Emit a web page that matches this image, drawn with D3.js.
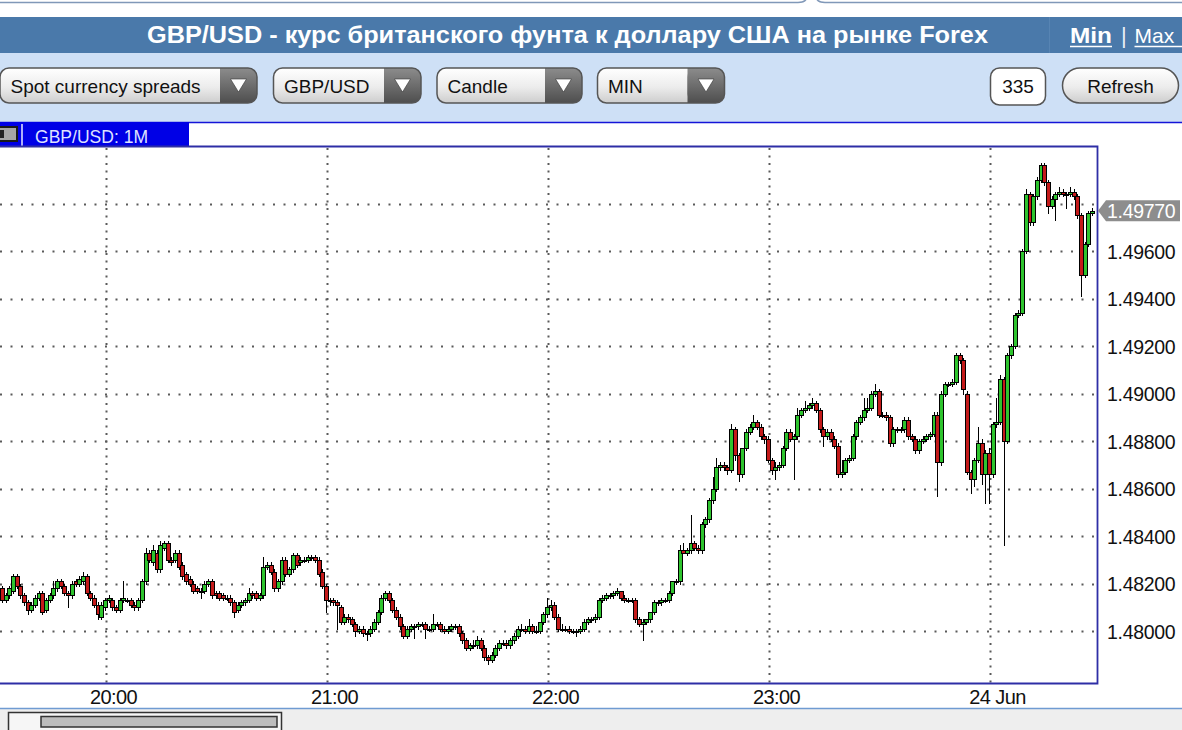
<!DOCTYPE html>
<html><head><meta charset="utf-8">
<script src="https://cdn.jsdelivr.net/npm/d3@7"></script>
<style>
html,body{margin:0;padding:0;background:#fff;overflow:hidden}
svg{display:block}
</style></head>
<body>
<svg id="chart" width="1182" height="730"></svg>
<script>
// ---------------- DATA ----------------
const titleText = "GBP/USD - курс британского фунта к доллару США на рынке Forex";
const dropdownLabels = ["Spot currency spreads", "GBP/USD", "Candle", "MIN"];
const barCountText = "335";
const refreshText = "Refresh";
const seriesLabel = "GBP/USD: 1M";

// one-minute candles starting 23 Jun 19:32; prices in pips above pipBase
const pipBase = 1.48, pipSize = 0.0001;
const firstBar = new Date(2016, 5, 23, 19, 32);
const opens = [
18,13,15,17,23,19,15,12,9,11, 14,16,9,13,15,18,21,19,16,15, 21,20,21,23,16,14,11,6,10,13,
13,10,9,13,13,13,11,10,13,21, 33,29,33,26,35,37,30,30,33,28, 24,22,20,18,17,17,20,21,16,16,
15,14,14,12,9,11,12,13,16,16, 14,15,27,28,25,18,21,30,24,26, 32,29,30,30,31,31,30,25,19,13,
13,12,10,4,6,5,3,0,1,-1, -1,1,4,8,14,16,13,9,6,2, -2,1,2,2,3,3,1,1,3,3,
1,0,1,2,2,-1,-4,-7,-6,-6, -4,-7,-11,-12,-10,-7,-5,-5,-6,-4, -2,1,1,0,2,0,0,4,7,10,
11,6,1,1,1,0,0,0,1,4, 5,5,6,13,14,15,15,16,17,14, 13,13,13,5,3,4,5,8,12,12,
13,13,16,21,21,34,33,34,37,35, 34,45,47,55,60,69,70,69,68,85, 74,66,77,84,86,88,86,82,81,72,
68,69,70,77,84,81,82,91,93,94, 95,96,93,85,82,84,81,78,66,67, 72,73,82,88,90,93,94,100,101,91,
91,90,79,85,85,85,89,82,81,76, 80,81,82,83,91,71,100,104,104,105, 116,114,100,67,64,72,79,66,75,66,
87,88,106,80,116,120,133,134,160,184, 172,183,190,196,189,179,182,184,185,184, 184,185,183,175,150,163,176
];
const highs = [
19,16,19,24,24,20,16,13,12,15, 17,17,14,16,21,22,22,20,17,21, 22,23,25,24,17,15,12,12,14,15,
14,11,14,21,14,14,12,14,22,35, 34,36,34,38,38,38,31,34,34,29, 25,23,21,19,18,21,22,22,17,17,
16,15,15,13,12,13,14,18,17,17, 16,31,29,29,26,22,31,31,27,33, 33,31,31,32,32,32,31,26,20,14,
14,13,11,7,7,6,4,2,2,0, 2,5,9,15,17,17,14,10,7,3, 2,3,3,4,4,4,2,7,4,4,
2,2,3,3,3,0,-3,-5,-4,-2, -3,-6,-10,-9,-6,-4,-4,-4,-3,-1, 2,3,2,5,3,2,4,8,14,13,
12,7,3,2,2,1,1,2,5,6, 6,7,14,15,16,16,17,18,17,15, 14,14,14,6,5,5,8,13,13,14,
14,17,21,22,36,37,35,49,38,36, 46,48,56,65,73,71,71,70,87,86, 75,77,85,87,91,89,87,83,82,73,
71,71,78,85,85,83,94,94,97,96, 98,97,94,86,85,85,82,79,72,73, 74,83,89,91,98,98,101,104,102,92,
92,91,86,86,86,90,90,83,82,81, 82,83,84,92,92,101,105,105,106,117, 117,115,101,68,73,86,81,76,77,88,
98,108,107,117,121,134,135,161,186,185, 184,191,197,197,190,183,185,187,186,185, 187,186,184,176,164,177,178
];
const lows = [
12,12,14,16,18,14,11,7,8,10, 13,7,8,12,14,17,18,15,10,14, 19,19,20,15,13,10,5,5,9,12,
9,8,8,12,12,10,9,9,12,20, 29,28,25,25,34,29,28,29,26,22, 20,19,16,16,14,16,19,14,14,13,
13,13,11,6,8,10,11,12,14,13, 13,14,26,24,17,17,20,23,23,25, 27,28,29,29,30,29,23,18,8,11,
11,1,3,3,4,2,-2,-1,-2,-4, -2,0,3,7,13,12,8,5,1,-3, -3,0,-3,1,2,-3,0,0,2,0,
-1,-1,0,1,-2,-5,-8,-8,-7,-7, -8,-12,-14,-13,-11,-8,-6,-7,-7,-5, -3,0,-1,-1,-1,-1,-1,3,6,9,
5,0,0,0,-1,-1,-2,-1,0,3, 4,4,5,12,13,14,14,15,13,12, 12,12,4,2,-4,3,4,7,11,11,
12,12,15,20,20,33,32,33,34,33, 33,44,46,54,59,68,68,66,67,72, 63,65,76,83,85,85,81,79,71,66,
64,68,69,76,80,64,81,90,92,93, 94,92,84,78,81,80,77,65,65,66, 71,72,81,87,89,92,93,99,90,90,
89,78,78,84,84,84,81,80,75,75, 79,80,81,82,57,70,99,103,103,104, 113,100,66,58,61,71,62,54,54,65,
86,87,36,79,115,119,132,133,159,171, 171,182,189,188,176,178,173,183,183,178, 183,182,174,141,149,162,175
];
const closes = [
13,15,18,23,19,15,12,9,11,14, 16,8,13,15,18,21,19,16,15,20, 20,22,23,16,14,11,7,11,13,14,
10,9,13,14,13,11,10,13,21,33, 30,34,26,36,37,30,29,33,27,23, 21,20,17,17,17,20,21,15,15,14,
14,14,12,8,11,12,13,16,15,14, 15,27,28,25,18,21,30,24,26,32, 28,30,30,31,31,30,24,19,13,13,
12,11,4,6,5,3,0,1,-1,-1, 1,4,8,14,16,13,9,6,2,-2, 1,2,2,3,3,1,1,3,3,1,
0,1,2,2,-1,-4,-7,-6,-6,-4, -7,-11,-12,-10,-7,-5,-5,-6,-4,-2, 1,1,0,2,0,0,4,7,10,11,
6,1,1,1,0,0,0,1,4,5, 5,6,13,14,15,15,16,17,14,13, 13,13,5,3,4,5,8,12,12,13,
13,16,21,21,34,33,34,37,35,34, 45,47,55,60,69,70,69,68,85,74, 66,77,84,86,88,86,82,81,72,68,
69,70,77,84,81,82,91,93,94,95, 96,93,85,82,84,81,78,66,67,72, 73,82,88,90,93,94,100,101,91,91,
90,79,85,85,85,89,82,81,76,80, 81,82,83,91,71,100,104,104,105,116, 114,102,67,64,72,79,66,75,66,87,
88,106,80,116,120,133,134,160,184,172, 183,190,196,189,179,182,184,185,184,184, 185,183,175,150,163,176,177
];
const priceTicks = [1.480, 1.482, 1.484, 1.486, 1.488, 1.490, 1.492, 1.494, 1.496, 1.498];
const timeTicks = [new Date(2016,5,23,20,0), new Date(2016,5,23,21,0), new Date(2016,5,23,22,0),
                   new Date(2016,5,23,23,0), new Date(2016,5,24,0,0)];
const timeLabels = ["20:00", "21:00", "22:00", "23:00", "24 Jun"];

// ---------------- BUILD ----------------
const toPrice = p => pipBase + p * pipSize;
const bars = opens.map((o, i) => ({
  t: d3.timeMinute.offset(firstBar, i),
  o: toPrice(o), h: toPrice(highs[i]), l: toPrice(lows[i]), c: toPrice(closes[i])
}));
const lastPrice = bars[bars.length - 1].c;

const svg = d3.select("#chart");
const FONT = "'Liberation Sans', Arial, Helvetica, sans-serif";
const defs = svg.append("defs");
const g1 = defs.append("linearGradient").attr("id","btnGrad").attr("x1",0).attr("x2",0).attr("y1",0).attr("y2",1);
g1.append("stop").attr("offset","0%").attr("stop-color","#ffffff");
g1.append("stop").attr("offset","55%").attr("stop-color","#ececec");
g1.append("stop").attr("offset","100%").attr("stop-color","#cdcdcd");
const g2 = defs.append("linearGradient").attr("id","arrGrad").attr("x1",0).attr("x2",0).attr("y1",0).attr("y2",1);
g2.append("stop").attr("offset","0%").attr("stop-color","#8c8c8c");
g2.append("stop").attr("offset","100%").attr("stop-color","#4e4e4e");
defs.append("clipPath").attr("id","plotClip").append("rect")
  .attr("x",0).attr("y",147).attr("width",1097).attr("height",536);

// page background pieces
svg.append("rect").attr("width",1182).attr("height",730).attr("fill","#fff");
svg.append("path").attr("d","M0,2.5 H798 q6,0 8,-3").attr("fill","none").attr("stroke","#8098b8").attr("stroke-width",1.5);
svg.append("path").attr("d","M817,-0.5 q2,3 8,3 H1182").attr("fill","none").attr("stroke","#8098b8").attr("stroke-width",1.5);

// title bar
svg.append("rect").attr("x",0).attr("y",17).attr("width",1182).attr("height",36).attr("fill","#4a79aa");
svg.append("line").attr("x1",1049.5).attr("x2",1049.5).attr("y1",17).attr("y2",53).attr("stroke","#5784b3");
svg.append("text").attr("x",147).attr("y",43).attr("fill","#fff").attr("font-family",FONT)
  .attr("font-weight","bold").attr("font-size",23).attr("textLength",841).attr("lengthAdjust","spacingAndGlyphs")
  .text(titleText);
svg.append("text").attr("x",1070).attr("y",43).attr("fill","#fff").attr("font-family",FONT)
  .attr("font-weight","bold").attr("font-size",22).attr("textLength",42).attr("lengthAdjust","spacingAndGlyphs").text("Min");
svg.append("line").attr("x1",1070).attr("x2",1112).attr("y1",46.5).attr("y2",46.5).attr("stroke","#fff").attr("stroke-width",1.6);
svg.append("text").attr("x",1121).attr("y",43).attr("fill","#e8eef6").attr("font-family",FONT).attr("font-size",22).text("|");
svg.append("text").attr("x",1134.5).attr("y",43).attr("fill","#fff").attr("font-family",FONT).attr("font-size",21).text("Max");
svg.append("line").attr("x1",1134.5).attr("x2",1182).attr("y1",46.5).attr("y2",46.5).attr("stroke","#fff").attr("stroke-width",1.4);

// controls row
svg.append("rect").attr("x",0).attr("y",53).attr("width",1182).attr("height",69).attr("fill","#cee0f6");
const ddBoxes = [[0,257],[273.5,147.5],[437,145],[597.5,127]];
dropdownLabels.forEach((lab, i) => {
  const [x, w] = ddBoxes[i];
  const g = svg.append("g");
  g.append("rect").attr("x",x).attr("y",68).attr("width",w).attr("height",35).attr("rx",9)
    .attr("fill","url(#btnGrad)");
  g.append("rect").attr("x",x+w-37).attr("y",68).attr("width",37).attr("height",35).attr("rx",9).attr("fill","url(#arrGrad)");
  g.append("rect").attr("x",x+w-37).attr("y",68).attr("width",12).attr("height",35).attr("fill","url(#arrGrad)");
  g.append("rect").attr("x",x).attr("y",68).attr("width",w).attr("height",35).attr("rx",9)
    .attr("fill","none").attr("stroke","#555").attr("stroke-width",1.5);
  const cx = x + w - 18.5;
  g.append("path").attr("d",`M${cx-8},79 L${cx+8},79 L${cx},92 Z`).attr("fill","#fff").attr("stroke","#333").attr("stroke-width",0.6);
  g.append("text").attr("x",x+10.5).attr("y",93).attr("font-family",FONT).attr("font-size",19).attr("fill","#111").text(lab);
});
svg.append("rect").attr("x",990.5).attr("y",68).attr("width",55).attr("height",37).attr("rx",9)
  .attr("fill","#fff").attr("stroke","#555").attr("stroke-width",1.5);
svg.append("text").attr("x",1018).attr("y",93).attr("text-anchor","middle").attr("font-family",FONT)
  .attr("font-size",19).attr("fill","#111").text(barCountText);
svg.append("rect").attr("x",1062.5).attr("y",68).attr("width",116).attr("height",35).attr("rx",17.5)
  .attr("fill","url(#btnGrad)").attr("stroke","#555").attr("stroke-width",1.5);
svg.append("text").attr("x",1120.5).attr("y",93).attr("text-anchor","middle").attr("font-family",FONT)
  .attr("font-size",19).attr("fill","#111").text(refreshText);

// chart panel header
svg.append("line").attr("x1",0).attr("x2",1182).attr("y1",122.5).attr("y2",122.5).attr("stroke","#1414d8").attr("stroke-width",1.5);
svg.append("rect").attr("x",0).attr("y",122).attr("width",189).attr("height",24).attr("fill","#0000e6");
svg.append("rect").attr("x",-2).attr("y",127).attr("width",19).attr("height",14).attr("fill","#a6a6a6").attr("stroke","#1a1a1a").attr("stroke-width",2);
svg.append("rect").attr("x",-1).attr("y",130).attr("width",5).attr("height",8).attr("fill","#222");
svg.append("line").attr("x1",22).attr("x2",22).attr("y1",124).attr("y2",146).attr("stroke","#e8e8ff").attr("stroke-width",1.5);
svg.append("text").attr("x",35).attr("y",143).attr("font-family",FONT).attr("font-size",18).attr("fill","#dfe2ff")
  .attr("textLength",113).attr("lengthAdjust","spacingAndGlyphs").text(seriesLabel);

// scales
const x = d3.scaleTime().domain([timeTicks[0], timeTicks[4]]).range([106, 990]);
const y = d3.scaleLinear().domain([1.480, 1.496]).range([631, 251]);

// grid
const grid = svg.append("g");
grid.selectAll("line.h").data(priceTicks).join("line").attr("class","h")
  .attr("x1",0).attr("x2",1096).attr("y1",d=>Math.round(y(d))+0.5).attr("y2",d=>Math.round(y(d))+0.5)
  .attr("stroke","#5a5a5a").attr("stroke-width",2).attr("stroke-dasharray","2,8.5");
grid.selectAll("line.v").data(timeTicks).join("line").attr("class","v")
  .attr("x1",d=>Math.round(x(d))+0.5).attr("x2",d=>Math.round(x(d))+0.5).attr("y1",148).attr("y2",683)
  .attr("stroke","#5a5a5a").attr("stroke-width",2).attr("stroke-dasharray","2,5.5");

// candles (pixel-snapped for crisp outlines)
const cg = svg.append("g").attr("clip-path","url(#plotClip)");
const px = d => Math.round(x(d.t));
const topY = d => Math.round(y(Math.max(d.o, d.c))) + 0.5;
const botY = d => Math.round(y(Math.min(d.o, d.c))) + 0.5;
cg.selectAll("line.wick").data(bars).join("line").attr("class","wick")
  .attr("x1",d=>px(d)-0.5).attr("x2",d=>px(d)-0.5)
  .attr("y1",d=>Math.round(y(d.h))).attr("y2",d=>Math.round(y(d.l))+1)
  .attr("stroke","#000").attr("stroke-width",1);
cg.selectAll("rect.body").data(bars).join("rect").attr("class","body")
  .attr("x",d=>px(d)-2.5).attr("width",4)
  .attr("y",topY)
  .attr("height",d=>Math.max(1, botY(d)-topY(d)))
  .attr("fill",d=>d.c>d.o ? "#2ec42e" : (d.c<d.o ? "#c41a1a" : "#000"))
  .attr("stroke","#000").attr("stroke-width",1);

// plot frame
svg.append("path").attr("d","M-2,146.5 H1097.5 V683.5 H-2").attr("fill","none").attr("stroke","#2e2ea6").attr("stroke-width",1.8);

// right price axis
const yl = y(lastPrice);
const yAxis = d3.axisRight(y).tickValues(priceTicks.filter(v => Math.abs(y(v) - yl) > 14))
  .tickFormat(d3.format(".5f")).tickSize(0).tickPadding(2);
const ya = svg.append("g").attr("transform","translate(1105,0)").call(yAxis);
ya.select(".domain").remove();
ya.attr("font-size",null).attr("font-family",null);
ya.selectAll("text").attr("font-family",FONT).attr("font-size",19.5).attr("fill","#111")
  .attr("dy","0.36em").attr("letter-spacing","-0.3");

// last price marker
svg.append("path").attr("d",`M1098,${yl} L1106,${yl-10.5} H1180 V${yl+10.5} H1106 Z`).attr("fill","#8d8d8d");
svg.append("text").attr("x",1107).attr("y",yl).attr("dy","0.36em").attr("font-family",FONT).attr("font-size",19.5)
  .attr("letter-spacing","-0.3").attr("fill","#fff").text(d3.format(".5f")(lastPrice));

// bottom time axis
const xAxis = d3.axisBottom(x).tickValues(timeTicks).tickFormat((d,i)=>timeLabels[i]).tickSize(0);
const xa = svg.append("g").attr("transform","translate(0,684)").call(xAxis);
xa.select(".domain").remove();
xa.attr("font-size",null).attr("font-family",null);
xa.selectAll("text").attr("x",7).attr("y",20).attr("dy",0).attr("font-family",FONT).attr("font-size",20)
  .attr("fill","#111").attr("letter-spacing","-0.6");

// bottom scroller
svg.append("rect").attr("x",0).attr("y",709).attr("width",1182).attr("height",21).attr("fill","#eeeeee");
svg.append("line").attr("x1",0).attr("x2",1182).attr("y1",708.5).attr("y2",708.5).attr("stroke","#6f9bd2").attr("stroke-width",1.5);
svg.append("rect").attr("x",8.5).attr("y",712.5).attr("width",273).attr("height",22).attr("fill","#f6f6f6").attr("stroke","#333").attr("stroke-width",1.5);
svg.append("rect").attr("x",41).attr("y",716.5).attr("width",236).attr("height",10.5).attr("fill","#bdbdbd").attr("stroke","#333").attr("stroke-width",1.5);
</script>
</body></html>
